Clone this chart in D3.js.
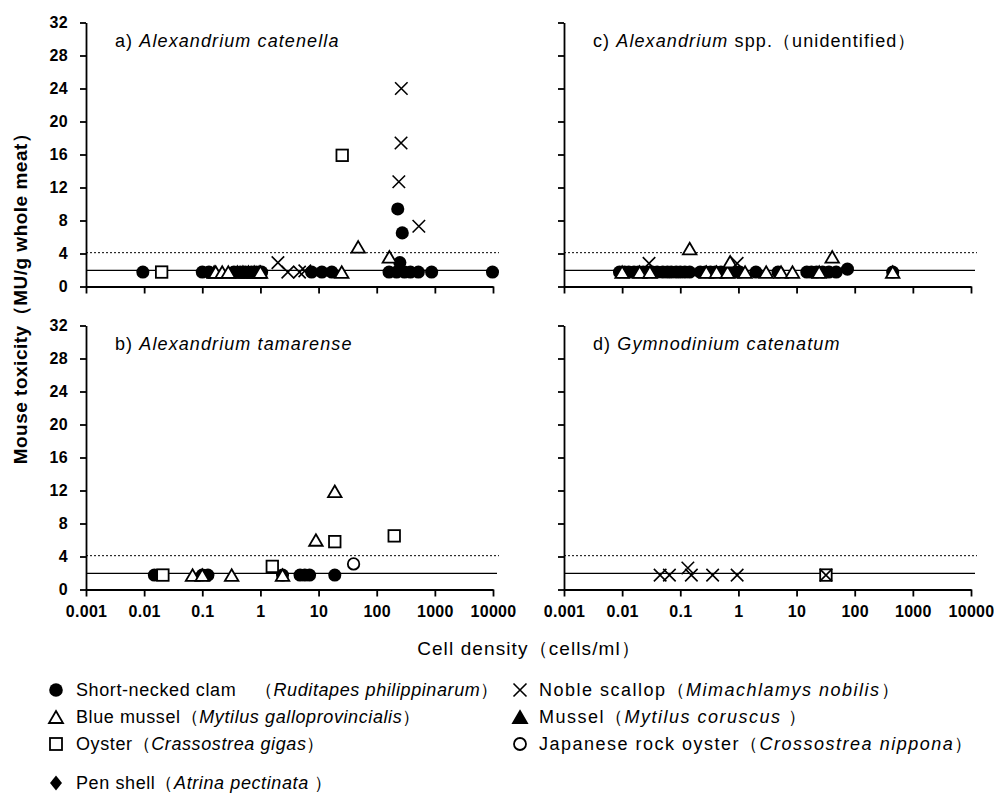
<!DOCTYPE html>
<html>
<head>
<meta charset="utf-8">
<script src="https://cdn.jsdelivr.net/npm/d3@7"></script>
<style>
  body { margin: 0; background: #fff; }
  text { font-family: "Liberation Sans", Arial, sans-serif; fill: #000; }
</style>
</head>
<body>
<script>
// ---- data (cell density cells/ml, toxicity MU/g) ----
var xTicks = [0.001, 0.01, 0.1, 1, 10, 100, 1000, 10000];
var xTickLabels = ['0.001', '0.01', '0.1', '1', '10', '100', '1000', '10000'];
var yTicks = [0, 4, 8, 12, 16, 20, 24, 28, 32];
var detectLine = 1.95;
var limitLine = 4.1;

// a) Alexandrium catenella
var aClam = [[0.0095, 1.75], [0.1, 1.75], [0.13, 1.75], [0.35, 1.75], [0.45, 1.75], [0.55, 1.75], [0.7, 1.75], [0.85, 1.75], [1.05, 1.75],
  [7.6, 1.75], [11.4, 1.75], [16.9, 1.75], [163, 1.75], [220, 1.75], [250, 2.9], [230, 9.4], [275, 6.5], [300, 1.75], [380, 1.75], [520, 1.75], [880, 1.75], [9800, 1.75]];
var aMussel = [[0.16, 1.75], [0.4, 1.75], [0.5, 1.75], [0.62, 1.75], [0.78, 1.75], [0.95, 1.75]];
var aBlue = [[0.17, 1.75], [0.22, 1.75], [0.28, 1.75], [1.0, 1.75], [25, 1.75], [48, 4.8], [165, 3.6]];
var aOyster = [[0.02, 1.75], [25.5, 15.9]];
var aRock = [];
var aScallop = [[2.0, 2.9], [2.96, 1.75], [4.7, 1.75], [5.8, 1.9], [240, 12.7], [262, 17.4], [265, 24], [530, 7.3]];

// b) Alexandrium tamarense
var bClam = [[0.015, 1.75], [0.1, 1.75], [0.125, 1.75], [2.4, 1.75], [4.8, 1.75], [5.8, 1.75], [7.0, 1.75], [19, 1.75]];
var bMussel = [];
var bBlue = [[0.068, 1.75], [0.1, 1.75], [0.32, 1.75], [2.4, 1.75], [9, 6.0], [19, 11.9]];
var bOyster = [[0.021, 1.75], [1.6, 2.8], [19, 5.8], [200, 6.5]];
var bRock = [[40, 3.1]];
var bScallop = [];

// c) Alexandrium spp. (unidentified)
var cClam = [[0.009, 1.75], [0.011, 1.75], [0.013, 1.75], [0.016, 1.75], [0.019, 1.75], [0.023, 1.75], [0.027, 1.75], [0.033, 1.75],
  [0.04, 1.75], [0.05, 1.75], [0.06, 1.75], [0.07, 1.75], [0.085, 1.75], [0.1, 1.75], [0.12, 1.75], [0.145, 1.75],
  [0.22, 1.75], [0.27, 1.75], [0.33, 1.75], [0.4, 1.75], [0.5, 1.75], [0.62, 1.75], [0.75, 1.75], [0.9, 1.75], [1.05, 1.75],
  [2.0, 1.75], [4.8, 1.75], [15, 1.75], [18, 1.75], [22, 1.75], [28, 1.75], [36, 1.75], [48, 1.75], [75, 2.1], [450, 1.75]];
var cMussel = [];
var cBlue = [[0.01, 1.75], [0.02, 1.75], [0.03, 1.75], [0.145, 4.6], [0.28, 1.75], [0.42, 1.75], [0.65, 1.75], [0.72, 3.0],
  [1.3, 1.75], [3.0, 1.75], [5.4, 1.75], [8.5, 1.75], [24.5, 1.75], [41, 3.6], [450, 1.75]];
var cOyster = [];
var cRock = [];
var cScallop = [[0.029, 2.8], [0.95, 2.8]];

// d) Gymnodinium catenatum
var dClam = [];
var dMussel = [];
var dBlue = [];
var dOyster = [[32, 1.75]];
var dRock = [];
var dScallop = [[0.045, 1.75], [0.065, 1.75], [0.135, 2.6], [0.155, 1.75], [0.36, 1.75], [0.95, 1.75], [32, 1.75]];

var panels = [
  { label: 'a) ', name: 'Alexandrium catenella', rest: '', left: 86, top: 22.5, clam: aClam, mussel: aMussel, blue: aBlue, oyster: aOyster, rock: aRock, scallop: aScallop, xLabels: false, yLabels: true },
  { label: 'b) ', name: 'Alexandrium tamarense', rest: '', left: 86, top: 325.5, clam: bClam, mussel: bMussel, blue: bBlue, oyster: bOyster, rock: bRock, scallop: bScallop, xLabels: true, yLabels: true },
  { label: 'c) ', name: 'Alexandrium', rest: ' spp.（unidentified）', left: 564, top: 22.5, clam: cClam, mussel: cMussel, blue: cBlue, oyster: cOyster, rock: cRock, scallop: cScallop, xLabels: false, yLabels: false },
  { label: 'd) ', name: 'Gymnodinium catenatum', rest: '', left: 564, top: 325.5, clam: dClam, mussel: dMussel, blue: dBlue, oyster: dOyster, rock: dRock, scallop: dScallop, xLabels: true, yLabels: false }
];

var legendLeft = [
  { sym: 'clam', text: 'Short-necked clam　（', it: 'Ruditapes philippinarum', end: '）' },
  { sym: 'blue', text: 'Blue mussel（', it: 'Mytilus galloprovincialis', end: '）' },
  { sym: 'oyster', text: 'Oyster（', it: 'Crassostrea gigas', end: '）' },
  { sym: 'pen', text: 'Pen shell（', it: 'Atrina pectinata', end: ' ）' }
];
var legendRight = [
  { sym: 'scallop', text: 'Noble scallop（', it: 'Mimachlamys nobilis', end: '）' },
  { sym: 'mussel', text: 'Mussel（', it: 'Mytilus coruscus', end: ' ）' },
  { sym: 'rock', text: 'Japanese rock oyster（', it: 'Crossostrea nippona', end: '）' }
];
var legendRows = [690, 717, 744, 783];

var width = 407, height = 264;

var svg = d3.select('body').append('svg')
  .attr('width', 994)
  .attr('height', 794);

var x = d3.scaleLog().domain([0.001, 10000]).range([0, width]);
var y = d3.scaleLinear().domain([0, 32]).range([height, 0]);

// draws one marker of a given kind at 0,0 inside g
function drawSymbol(g, kind, s) {
  var h = s / 2;
  if (kind == 'clam') {
    g.append('circle').attr('r', h + 0.3).attr('fill', '#000');
  } else if (kind == 'blue' || kind == 'mussel') {
    g.append('path')
      .attr('d', 'M0,' + (-h + 0.5) + 'L' + (h + 0.5) + ',' + (h - 0.5) + 'L' + (-h - 0.5) + ',' + (h - 0.5) + 'Z')
      .attr('fill', kind == 'blue' ? '#fff' : '#000')
      .attr('stroke', '#000').attr('stroke-width', 1.8).attr('stroke-linejoin', 'miter');
  } else if (kind == 'oyster') {
    g.append('rect').attr('x', -h + 0.5).attr('y', -h + 0.5).attr('width', s - 1).attr('height', s - 1)
      .attr('fill', '#fff').attr('stroke', '#000').attr('stroke-width', 1.8);
  } else if (kind == 'rock') {
    g.append('circle').attr('r', h - 0.5).attr('fill', '#fff').attr('stroke', '#000').attr('stroke-width', 1.8);
  } else if (kind == 'scallop') {
    g.append('path')
      .attr('d', 'M' + (-h) + ',' + (-h) + 'L' + h + ',' + h + 'M' + h + ',' + (-h) + 'L' + (-h) + ',' + h)
      .attr('stroke', '#000').attr('stroke-width', 1.6).attr('fill', 'none');
  } else if (kind == 'pen') {
    g.append('path')
      .attr('d', 'M0,' + (-h - 1) + 'L' + (h - 0.5) + ',0L0,' + (h + 1) + 'L' + (-h + 0.5) + ',0Z')
      .attr('fill', '#000');
  }
}

panels.forEach(function (p) {
  var g = svg.append('g').attr('transform', 'translate(' + p.left + ',' + p.top + ')');

  // reference lines
  g.append('line')
    .attr('x1', 0).attr('x2', x(10000) + 6)
    .attr('y1', y(limitLine)).attr('y2', y(limitLine))
    .attr('stroke', '#000').attr('stroke-width', 1).attr('stroke-dasharray', '2,2');
  g.append('line')
    .attr('x1', 0).attr('x2', x(10000) + 4)
    .attr('y1', y(detectLine)).attr('y2', y(detectLine))
    .attr('stroke', '#000').attr('stroke-width', 1.2);

  // axes
  var yAxis = g.append('g')
    .call(d3.axisLeft(y).tickValues(yTicks).tickSize(6).tickSizeOuter(0).tickPadding(12)
      .tickFormat(p.yLabels ? d3.format('d') : ''));
  var xAxis = g.append('g')
    .attr('transform', 'translate(0,' + height + ')')
    .call(d3.axisBottom(x).tickValues(xTicks).tickSize(7).tickSizeOuter(0).tickPadding(9)
      .tickFormat(function (d, i) { return p.xLabels ? xTickLabels[i] : ''; }));
  [yAxis, xAxis].forEach(function (a) {
    a.selectAll('path, line').attr('stroke', '#000').attr('stroke-width', 1.8);
    a.selectAll('text').attr('font-size', '16px').attr('font-weight', 'bold').attr('letter-spacing', '0.3px')
      .attr('font-family', '"Liberation Sans", Arial, sans-serif').attr('fill', '#000');
  });

  // title
  var t = g.append('text').attr('x', 29).attr('y', 24).attr('font-size', '18px').attr('letter-spacing', '1.1px');
  t.append('tspan').text(p.label);
  t.append('tspan').attr('font-style', 'italic').text(p.name);
  if (p.rest) t.append('tspan').text(p.rest);

  // markers
  var series = [['clam', p.clam], ['mussel', p.mussel], ['blue', p.blue], ['oyster', p.oyster], ['rock', p.rock], ['scallop', p.scallop]];
  series.forEach(function (sr) {
    g.selectAll('g.m-' + sr[0])
      .data(sr[1])
      .enter()
      .append('g')
      .attr('class', 'm-' + sr[0])
      .attr('transform', function (d) { return 'translate(' + x(d[0]) + ',' + y(d[1]) + ')'; })
      .each(function () { drawSymbol(d3.select(this), sr[0], 12.5); });
  });
});

// axis titles
svg.append('text')
  .attr('transform', 'translate(27,294) rotate(-90)')
  .attr('text-anchor', 'middle')
  .attr('font-size', '19px')
  .attr('font-weight', 'bold')
  .attr('letter-spacing', '0.5px')
  .text('Mouse toxicity（MU/g whole meat）');

svg.append('text')
  .attr('x', 529).attr('y', 655)
  .attr('text-anchor', 'middle')
  .attr('font-size', '19px')
  .attr('letter-spacing', '1.1px')
  .text('Cell density（cells/ml）');

// legend
function legendColumn(items, mx, tx, spacing) {
  items.forEach(function (it, i) {
    var cy = legendRows[i];
    var g = svg.append('g').attr('transform', 'translate(' + mx + ',' + cy + ')');
    drawSymbol(g, it.sym, 13);
    var t = svg.append('text').attr('x', tx).attr('y', cy + 6).attr('font-size', '18px').attr('letter-spacing', spacing);
    t.append('tspan').text(it.text);
    t.append('tspan').attr('font-style', 'italic').text(it.it);
    t.append('tspan').text(it.end);
  });
}
legendColumn(legendLeft, 56, 76, '0.6px');
legendColumn(legendRight, 520, 539, '1.5px');
</script>
</body>
</html>
